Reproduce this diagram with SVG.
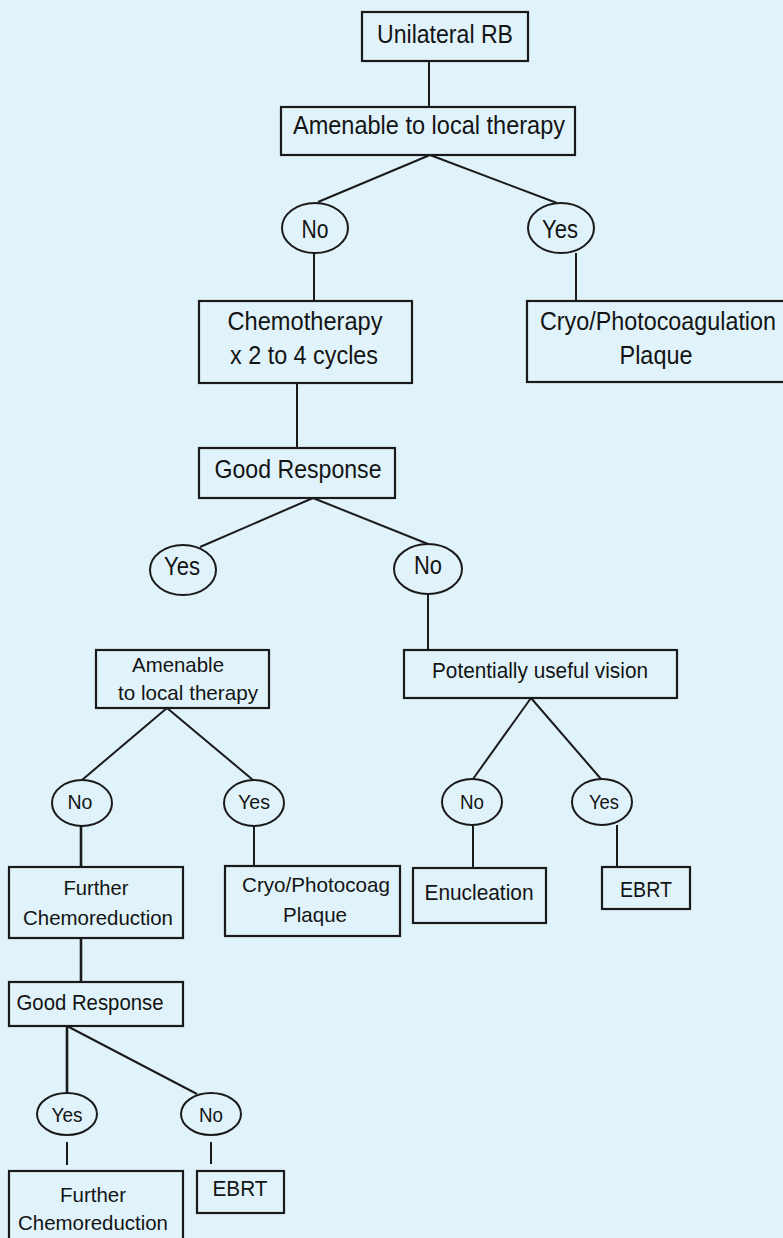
<svg xmlns="http://www.w3.org/2000/svg" width="783" height="1238" viewBox="0 0 783 1238">
<style>
.bg{fill:#e0f3fb}
.box{fill:none;stroke:#1a1a1a;stroke-width:2.2}
.ell{fill:none;stroke:#1a1a1a;stroke-width:2}
.con line{stroke:#1a1a1a;stroke-width:2}
text{font-family:"Liberation Sans",Arial,sans-serif;fill:#141414;text-anchor:middle}
.l{font-size:25px}
.m{font-size:22px}
.s{font-size:21px}
</style>
<rect class="bg" x="0" y="0" width="783" height="1238"/>
<g id="connectors" class="con">
<line x1="429" y1="61" x2="429" y2="107"/>
<line x1="430" y1="155" x2="318" y2="202"/>
<line x1="430" y1="155" x2="557" y2="203"/>
<line x1="314" y1="253" x2="314" y2="301"/>
<line x1="576" y1="253" x2="576" y2="301"/>
<line x1="297" y1="383" x2="297" y2="448"/>
<line x1="313" y1="498" x2="200" y2="547"/>
<line x1="313" y1="498" x2="428" y2="544"/>
<line x1="428" y1="594" x2="428" y2="650"/>
<line x1="531" y1="698" x2="473" y2="779"/>
<line x1="531" y1="698" x2="601" y2="779"/>
<line x1="473" y1="825" x2="473" y2="868"/>
<line x1="617" y1="825" x2="617" y2="867"/>
<line x1="167" y1="708" x2="82" y2="780"/>
<line x1="167" y1="708" x2="253" y2="780"/>
<line x1="81" y1="826" x2="81" y2="867" style="stroke-width:2.6"/>
<line x1="254" y1="826" x2="254" y2="866"/>
<line x1="81" y1="938" x2="81" y2="982" style="stroke-width:2.6"/>
<line x1="67" y1="1026" x2="67" y2="1093" style="stroke-width:2.6"/>
<line x1="67" y1="1026" x2="197" y2="1094"/>
<line x1="67" y1="1142" x2="67" y2="1165"/>
<line x1="211" y1="1142" x2="211" y2="1164"/>
</g>
<g id="n-unilateral"><rect class="box" x="362" y="12" width="166" height="49"/><text class="l" x="445" y="43" textLength="136" lengthAdjust="spacingAndGlyphs">Unilateral RB</text></g>
<g id="n-amenable1"><rect class="box" x="281" y="107" width="294" height="48"/><text class="l" x="429" y="134" textLength="272" lengthAdjust="spacingAndGlyphs">Amenable to local therapy</text></g>
<g id="n-no1"><ellipse class="ell" cx="315" cy="228" rx="33" ry="25"/><text class="l" x="315" y="238" textLength="27" lengthAdjust="spacingAndGlyphs">No</text></g>
<g id="n-yes1"><ellipse class="ell" cx="561" cy="228" rx="33" ry="25"/><text class="l" x="560" y="238" textLength="36" lengthAdjust="spacingAndGlyphs">Yes</text></g>
<g id="n-chemo"><rect class="box" x="199" y="301" width="213" height="82"/><text class="l" x="305" y="330" textLength="155" lengthAdjust="spacingAndGlyphs">Chemotherapy</text><text class="l" x="304" y="364" textLength="148" lengthAdjust="spacingAndGlyphs">x 2 to 4 cycles</text></g>
<g id="n-cryo1"><rect class="box" x="527" y="301" width="270" height="81"/><text class="l" x="658" y="330" textLength="236" lengthAdjust="spacingAndGlyphs">Cryo/Photocoagulation</text><text class="l" x="656" y="364" textLength="73" lengthAdjust="spacingAndGlyphs">Plaque</text></g>
<g id="n-good1"><rect class="box" x="199" y="448" width="196" height="50"/><text class="l" x="298" y="478" textLength="167" lengthAdjust="spacingAndGlyphs">Good Response</text></g>
<g id="n-yes2"><ellipse class="ell" cx="183" cy="570" rx="33" ry="25"/><text class="l" x="182" y="575" textLength="36" lengthAdjust="spacingAndGlyphs">Yes</text></g>
<g id="n-no2"><ellipse class="ell" cx="428" cy="569" rx="34" ry="25"/><text class="l" x="428" y="574" textLength="28" lengthAdjust="spacingAndGlyphs">No</text></g>
<g id="n-amenable2"><rect class="box" x="96" y="650" width="173" height="58"/><text class="s" x="178" y="672" textLength="92" lengthAdjust="spacingAndGlyphs">Amenable</text><text class="s" x="188" y="700" textLength="140" lengthAdjust="spacingAndGlyphs">to local therapy</text></g>
<g id="n-vision"><rect class="box" x="404" y="650" width="273" height="48"/><text class="m" x="540" y="678" textLength="216" lengthAdjust="spacingAndGlyphs">Potentially useful vision</text></g>
<g id="n-no3"><ellipse class="ell" cx="82" cy="803" rx="30" ry="23"/><text class="s" x="80" y="809" textLength="25" lengthAdjust="spacingAndGlyphs">No</text></g>
<g id="n-yes3"><ellipse class="ell" cx="254" cy="803" rx="30" ry="23"/><text class="s" x="254" y="809" textLength="32" lengthAdjust="spacingAndGlyphs">Yes</text></g>
<g id="n-no4"><ellipse class="ell" cx="472" cy="802" rx="30" ry="23"/><text class="s" x="472" y="809" textLength="24" lengthAdjust="spacingAndGlyphs">No</text></g>
<g id="n-yes4"><ellipse class="ell" cx="602" cy="802" rx="30" ry="23"/><text class="s" x="604" y="809" textLength="30" lengthAdjust="spacingAndGlyphs">Yes</text></g>
<g id="n-further1"><rect class="box" x="9" y="867" width="174" height="71"/><text class="s" x="96" y="895" textLength="65" lengthAdjust="spacingAndGlyphs">Further</text><text class="s" x="98" y="925" textLength="150" lengthAdjust="spacingAndGlyphs">Chemoreduction</text></g>
<g id="n-cryo2"><rect class="box" x="225" y="866" width="175" height="70"/><text class="s" x="316" y="892" textLength="148" lengthAdjust="spacingAndGlyphs">Cryo/Photocoag</text><text class="s" x="315" y="922" textLength="64" lengthAdjust="spacingAndGlyphs">Plaque</text></g>
<g id="n-enucleation"><rect class="box" x="413" y="868" width="133" height="55"/><text class="m" x="479" y="900" textLength="109" lengthAdjust="spacingAndGlyphs">Enucleation</text></g>
<g id="n-ebrt1"><rect class="box" x="602" y="867" width="88" height="42"/><text class="m" x="646" y="897" textLength="52" lengthAdjust="spacingAndGlyphs">EBRT</text></g>
<g id="n-good2"><rect class="box" x="9" y="982" width="174" height="44"/><text class="m" x="90" y="1010" textLength="147" lengthAdjust="spacingAndGlyphs">Good Response</text></g>
<g id="n-yes5"><ellipse class="ell" cx="67" cy="1114" rx="30" ry="21"/><text class="s" x="67" y="1122" textLength="31" lengthAdjust="spacingAndGlyphs">Yes</text></g>
<g id="n-no5"><ellipse class="ell" cx="211" cy="1114" rx="30" ry="21"/><text class="s" x="211" y="1122" textLength="24" lengthAdjust="spacingAndGlyphs">No</text></g>
<g id="n-further2"><rect class="box" x="9" y="1171" width="174" height="80"/><text class="s" x="93" y="1202" textLength="66" lengthAdjust="spacingAndGlyphs">Further</text><text class="s" x="93" y="1230" textLength="150" lengthAdjust="spacingAndGlyphs">Chemoreduction</text></g>
<g id="n-ebrt2"><rect class="box" x="197" y="1171" width="87" height="42"/><text class="m" x="240" y="1196" textLength="55" lengthAdjust="spacingAndGlyphs">EBRT</text></g>
</svg>
